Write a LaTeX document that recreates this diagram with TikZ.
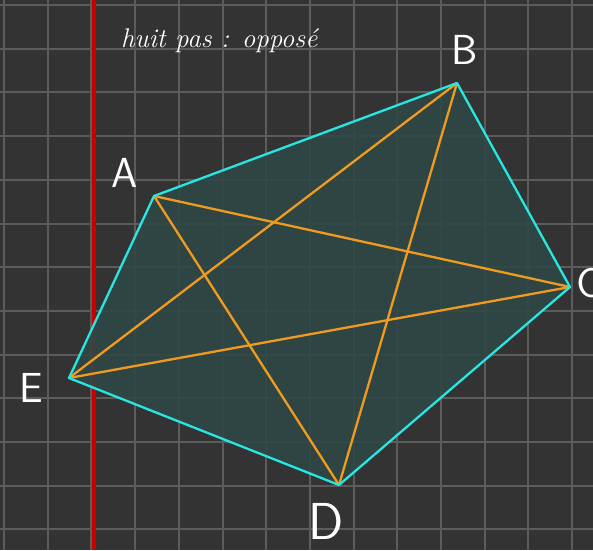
\documentclass[tikz,border=0pt]{standalone}
\usetikzlibrary{calc}
\definecolor{bg}{RGB}{51,51,51}
\definecolor{gridc}{RGB}{92,92,92}
\definecolor{redline}{RGB}{200,0,0}
\definecolor{cyanc}{RGB}{40,230,225}
\definecolor{fillc}{RGB}{47,72,70}
\definecolor{orangec}{RGB}{240,155,30}
\tikzset{
  lbl/.style={text=white, font=\sffamily\fontsize{42}{42}\selectfont, inner sep=0pt},
  note/.style={text=white, font=\itshape\fontsize{27}{27}\selectfont, inner sep=0pt, anchor=base west},
  edge/.style={draw=cyanc, line width=2.3pt},
  diag/.style={draw=orangec, line width=2.3pt},
}
\begin{document}
\begin{tikzpicture}[x=1pt,y=-1pt]
\useasboundingbox (0,0) rectangle (593,550);
\fill[bg] (0,0) rectangle (593,550);
\begin{scope}
\clip (0,0) rectangle (593,550);
\foreach \k in {0,...,13} {
  \draw[gridc, line width=2pt] ({4+43.7*\k},0) -- ({4+43.7*\k},550);
}
\foreach \k in {0,...,12} {
  \draw[gridc, line width=2pt] (0,{5+43.7*\k}) -- (593,{5+43.7*\k});
}
\node[lbl, anchor=west] (lC) at (576,283) {C};
\end{scope}
\draw[redline, line width=3.5pt] (94,0) -- (94,550);

\coordinate (A) at (154,196);
\coordinate (B) at (457,83);
\coordinate (C) at (570,287);
\coordinate (D) at (339,485);
\coordinate (E) at (69,378);

\fill[fillc, opacity=0.9] (A) -- (B) -- (C) -- (D) -- (E) -- cycle;
\draw[diag] (A) -- (C);
\draw[diag] (A) -- (D);
\draw[diag] (B) -- (D);
\draw[diag] (B) -- (E);
\draw[diag] (C) -- (E);
\draw[edge, line join=round] (A) -- (B) -- (C) -- (D) -- (E) -- cycle;

\node[lbl] (lA) at (125,173) {A};
\node[lbl] (lB) at (465,50) {B};
\node[lbl, font=\sffamily\fontsize{52}{52}\selectfont] (lD) at (326,521) {D};
\node[lbl] (lE) at (31,388) {E};
\node[note] (title) at (121,47) {huit pas : opposé};
\end{tikzpicture}
\end{document}
